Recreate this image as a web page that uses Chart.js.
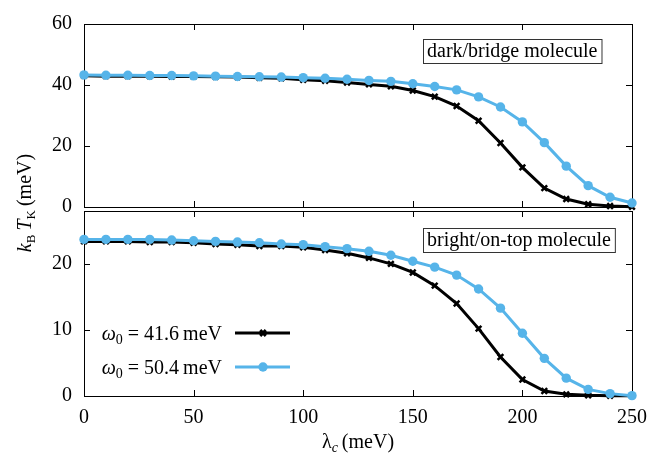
<!DOCTYPE html>
<html>
<head>
<meta charset="utf-8">
<script src="https://cdn.jsdelivr.net/npm/chart.js@4/dist/chart.umd.min.js"></script>
<style>
  html, body { margin: 0; padding: 0; background: #fff; }
  #wrap { position: relative; width: 662px; height: 460px; }
  #wrap canvas { position: absolute; left: 0; top: 0; }
</style>
</head>
<body>
<div id="wrap">
  <canvas id="panelTop" width="662" height="460"></canvas>
  <canvas id="panelBottom" width="662" height="460"></canvas>
</div>
<script>
// Coupling strength lambda_c (meV)
const lambdaC = [0, 10, 20, 30, 40, 50, 60, 70, 80, 90, 100, 110, 120,
                 130, 140, 150, 160, 170, 180, 190, 200, 210, 220, 230, 240, 250];

// k_B T_K (meV), dark/bridge molecule
const darkW416 = [43.0, 42.9, 42.9, 42.9, 42.8, 42.8, 42.7, 42.6, 42.4, 42.2, 41.7, 41.4, 40.8,
                  40.2, 39.6, 38.2, 36.2, 33.1, 28.3, 21.0, 13.0, 6.2, 2.6, 0.9, 0.3, 0.1];
const darkW504 = [43.3, 43.2, 43.2, 43.1, 43.1, 43.0, 42.9, 42.8, 42.7, 42.6, 42.4, 42.2, 41.9,
                  41.5, 41.2, 40.4, 39.5, 38.4, 36.1, 32.8, 27.9, 21.1, 13.4, 7.0, 3.2, 1.3];

// k_B T_K (meV), bright/on-top molecule
const brightW416 = [23.4, 23.4, 23.4, 23.3, 23.3, 23.2, 23.0, 22.9, 22.7, 22.7, 22.5, 22.1, 21.6,
                    20.9, 20.0, 18.7, 16.7, 14.0, 10.2, 5.9, 2.5, 0.75, 0.25, 0.1, 0.05, 0.02];
const brightW504 = [23.7, 23.7, 23.7, 23.7, 23.6, 23.5, 23.4, 23.3, 23.2, 23.0, 22.9, 22.6, 22.3,
                    21.9, 21.3, 20.4, 19.5, 18.3, 16.2, 13.3, 9.5, 5.7, 2.7, 1.0, 0.36, 0.05];

// Phonon frequencies omega_0 (meV) of the two series
const omegaValues = ['41.6', '50.4'];
const panelTitles = ['dark/bridge molecule', 'bright/on-top molecule'];

// Tick labels
const xTickValues = [0, 50, 100, 150, 200, 250];
const topYTickValues = [0, 20, 40, 60];
const bottomYTickValues = [0, 10, 20];

const SERIF = '"Liberation Serif", "DejaVu Serif", serif';
const BLUE = '#56B4E9';

function fontOf(r) {
  return (r.italic ? 'italic ' : '') + (r.size || 20) + 'px ' + SERIF;
}

// Draws a row of text pieces (italic symbols, subscripts) on one baseline
function drawRuns(ctx, runs, x, y, align) {
  let total = 0;
  runs.forEach(r => { ctx.font = fontOf(r); r.w = ctx.measureText(r.t).width; total += r.w; });
  let cx = align === 'right' ? x - total : align === 'center' ? x - total / 2 : x;
  ctx.textAlign = 'left';
  ctx.textBaseline = 'alphabetic';
  runs.forEach(r => { ctx.font = fontOf(r); ctx.fillText(r.t, cx, y + (r.dy || 0)); cx += r.w; });
  return total;
}

// Frame with inward tick marks on all four sides
const frameTicks = {
  id: 'frameTicks',
  beforeDatasetsDraw(chart) {
    const { ctx, chartArea: a, scales: { x, y } } = chart;
    const L = 6;
    ctx.save();
    ctx.strokeStyle = '#000';
    ctx.lineWidth = 1;
    ctx.beginPath();
    x.ticks.forEach(t => {
      const px = Math.round(x.getPixelForValue(t.value)) + 0.5;
      ctx.moveTo(px, a.bottom); ctx.lineTo(px, a.bottom - L);
      ctx.moveTo(px, a.top); ctx.lineTo(px, a.top + L);
    });
    y.ticks.forEach(t => {
      const py = Math.round(y.getPixelForValue(t.value)) + 0.5;
      ctx.moveTo(a.left, py); ctx.lineTo(a.left + L, py);
      ctx.moveTo(a.right, py); ctx.lineTo(a.right - L, py);
    });
    ctx.stroke();
    ctx.strokeRect(Math.round(a.left) + 0.5, Math.round(a.top) + 0.5,
                   Math.round(a.right - a.left), Math.round(a.bottom - a.top));
    ctx.restore();
  }
};

// Boxed panel title plus optional legend and axis titles
const annotations = {
  id: 'annotations',
  afterDraw(chart, args, o) {
    const { ctx, chartArea: a } = chart;
    ctx.save();
    // boxed title
    ctx.font = fontOf({});
    const tw = ctx.measureText(o.title).width;
    const bx = o.boxLeft, by = a.top + o.boxTop, bw = tw + 8, bh = 24;
    ctx.fillStyle = '#fff';
    ctx.fillRect(bx, by, bw, bh);
    ctx.strokeStyle = '#333';
    ctx.lineWidth = 1;
    ctx.strokeRect(bx + 0.5, by + 0.5, bw, bh);
    ctx.fillStyle = '#000';
    ctx.textAlign = 'left';
    ctx.textBaseline = 'alphabetic';
    ctx.fillText(o.title, bx + 4, by + 18);

    if (o.legend) {
      chart.data.datasets.slice().sort((p, q) => p.legendIndex - q.legendIndex).forEach((ds, i) => {
        const yy = a.top + 122 + i * 34;
        ctx.fillStyle = '#000';
        drawRuns(ctx, [
          { t: 'ω', italic: true },
          { t: '0', size: 14, dy: 4 },
          { t: ' = ' + omegaValues[ds.legendIndex] + '\u2009meV' }
        ], 222, yy + 7, 'right');
        ctx.strokeStyle = ds.borderColor;
        ctx.lineWidth = ds.borderWidth;
        ctx.beginPath();
        ctx.moveTo(235, yy); ctx.lineTo(290, yy);
        ctx.stroke();
        ctx.fillStyle = ds.pointBackgroundColor;
        ctx.strokeStyle = ds.pointBorderColor;
        Chart.helpers.drawPoint(ctx, {
          pointStyle: ds.pointStyle, radius: ds.pointRadius,
          borderWidth: ds.pointBorderWidth, rotation: 0
        }, 263, yy);
      });
    }

    if (o.axisTitles) {
      ctx.fillStyle = '#000';
      drawRuns(ctx, [
        { t: 'λ' },
        { t: 'c', italic: true, size: 14, dy: 4 },
        { t: '\u2009(meV)' }
      ], (a.left + a.right) / 2, 448, 'center');

      ctx.save();
      ctx.translate(31, 203);
      ctx.rotate(-Math.PI / 2);
      drawRuns(ctx, [
        { t: 'k', italic: true },
        { t: 'B', size: 13, dy: 4 },
        { t: '\u2009' },
        { t: 'T', italic: true },
        { t: 'K', size: 13, dy: 4 },
        { t: '\u2009(meV)' }
      ], 0, 0, 'center');
      ctx.restore();
    }
    ctx.restore();
  }
};

function seriesSet(lowW, highW) {
  return [
    {
      data: highW, legendIndex: 1, order: 0,
      borderColor: BLUE, borderWidth: 3,
      pointStyle: 'circle', pointRadius: 4.7, pointBorderWidth: 0,
      pointBackgroundColor: BLUE, pointBorderColor: BLUE,
      clip: false, tension: 0
    },
    {
      data: lowW, legendIndex: 0, order: 1,
      borderColor: '#000', borderWidth: 3,
      pointStyle: 'crossRot', pointRadius: 4, pointBorderWidth: 2.5,
      pointBackgroundColor: '#000', pointBorderColor: '#000',
      clip: false, tension: 0
    }
  ];
}

function tickList(values) {
  return scale => { scale.ticks = values.map(v => ({ value: v })); };
}

function makePanel(id, opts) {
  return new Chart(document.getElementById(id), {
    type: 'line',
    data: { labels: lambdaC, datasets: seriesSet(opts.low, opts.high) },
    options: {
      responsive: false,
      animation: false,
      events: [],
      layout: { padding: opts.padding },
      scales: {
        x: {
          type: 'linear', min: 0, max: 250,
          afterBuildTicks: tickList(xTickValues),
          afterFit: s => { s.height = opts.xAxisHeight; },
          grid: { display: false, drawTicks: false },
          border: { display: false },
          ticks: {
            display: opts.showXLabels, padding: 10,
            font: { family: SERIF, size: 20 }, color: '#000', maxRotation: 0
          }
        },
        y: {
          min: 0, max: opts.yMax,
          afterBuildTicks: tickList(opts.yTicks),
          afterFit: s => { s.width = 84; },
          grid: { display: false, drawTicks: false },
          border: { display: false },
          ticks: { padding: 12, font: { family: SERIF, size: 20 }, color: '#000' }
        }
      },
      plugins: {
        legend: { display: false },
        tooltip: { enabled: false },
        annotations: opts.annotations
      }
    },
    plugins: [frameTicks, annotations]
  });
}

function drawAll() {
  makePanel('panelTop', {
    low: darkW416, high: darkW504, yMax: 60, yTicks: topYTickValues,
    padding: { left: 0, right: 30, top: 20, bottom: 253 },
    xAxisHeight: 0, showXLabels: false,
    annotations: { title: panelTitles[0], boxLeft: 423, boxTop: 15, legend: false, axisTitles: false }
  });

  makePanel('panelBottom', {
    low: brightW416, high: brightW504, yMax: 28, yTicks: bottomYTickValues,
    padding: { left: 0, right: 30, top: 211, bottom: 0 },
    xAxisHeight: 64, showXLabels: true,
    annotations: { title: panelTitles[1], boxLeft: 423, boxTop: 17, legend: true, axisTitles: true }
  });
}

Promise.all([
  document.fonts.load('20px "Liberation Serif"'),
  document.fonts.load('italic 20px "Liberation Serif"')
]).catch(() => {}).then(drawAll);
</script>
</body>
</html>
